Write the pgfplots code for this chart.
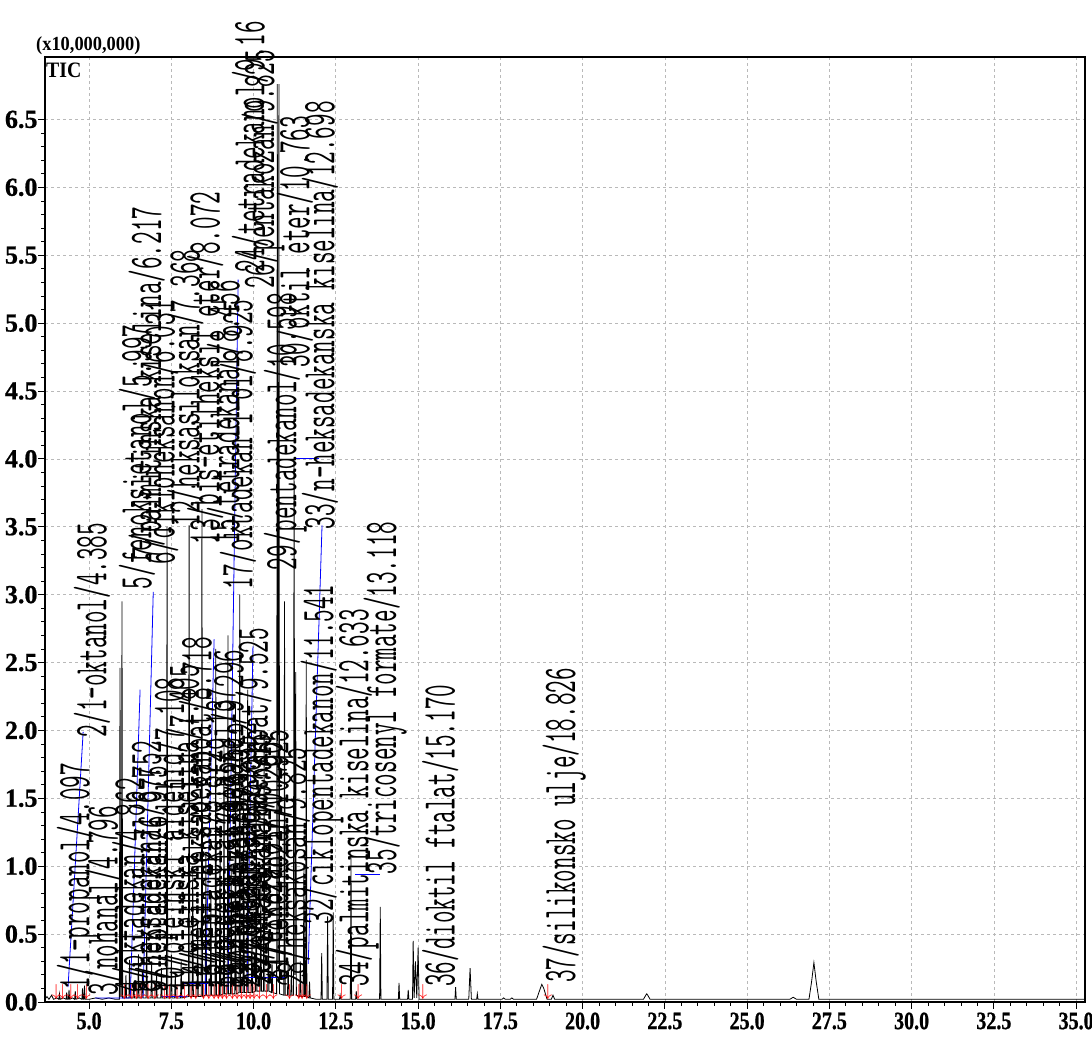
\documentclass[border=0pt]{standalone}
\usepackage{graphicx}
\usepackage{fontspec}
\setmainfont{Liberation Serif}
\usepackage{pgfplots}
\pgfplotsset{compat=1.18}

\begin{document}
\begin{tikzpicture}
\begin{axis}[name=ax,
  width=1040pt, height=945pt, scale only axis,
  xmin=3.66, xmax=35.27, ymin=0, ymax=6.96,
  xtick={5,7.5,10,12.5,15,17.5,20,22.5,25,27.5,30,32.5,35},
  ytick={0,0.5,1,1.5,2,2.5,3,3.5,4,4.5,5,5.5,6,6.5},
  minor x tick num=4, minor y tick num=4,
  xtick pos=left, ytick pos=left, tick align=outside,
  major tick length=7pt, minor tick length=4pt,
  tick style={black, line width=0.8pt},
  grid=major,
  major grid style={gray!55, dash pattern=on 3pt off 3pt, line width=0.7pt},
  axis line style={line width=1.2pt},
  /pgf/number format/assume math mode=true,
  xticklabel={\scalebox{0.8}[1]{\pgfmathprintnumber[fixed,fixed zerofill,precision=1]{\tick}}},
  yticklabel={\pgfmathprintnumber[fixed,fixed zerofill,precision=1]{\tick}},
  xticklabel style={font=\bfseries\fontsize{25}{25}\selectfont\addfontfeature{FakeBold=0.8}},
  yticklabel style={font=\bfseries\fontsize{26}{26}\selectfont\addfontfeature{FakeBold=0.8}, xshift=3pt},
  clip=false]

% chromatogram (TIC)
\addplot[black, line width=0.8pt] coordinates {
(3.66,0.02)(3.72,0.04)(3.78,0.02)(3.86,0.05)(3.92,0.02)(4.02,0.03)(4.08,0.02)(4.10,0.06)(4.12,0.02)
(4.22,0.03)(4.30,0.02)(4.32,0.07)(4.34,0.02)(4.37,0.02)(4.39,0.09)(4.41,0.02)(4.50,0.03)(4.56,0.02)
(4.58,0.08)(4.60,0.02)(4.70,0.03)(4.78,0.02)(4.80,0.10)(4.82,0.02)(4.84,0.02)(4.86,0.12)(4.88,0.02)
(5.00,0.02)(5.20,0.03)(5.40,0.02)(5.60,0.03)(5.80,0.02)(5.92,0.02)(5.94,2.46)(5.96,0.04)(5.98,0.04)
(6.00,2.95)(6.02,0.03)(6.10,0.03)(6.12,0.20)(6.14,0.03)(6.21,0.03)(6.23,0.31)(6.25,0.03)(6.34,0.03)
(6.36,0.15)(6.38,0.03)(6.48,0.03)(6.50,0.35)(6.52,0.03)(6.60,0.03)(6.62,0.22)(6.64,0.03)(6.73,0.03)
(6.75,0.50)(6.77,0.03)(6.88,0.03)(6.90,0.30)(6.92,0.03)(7.03,0.03)(7.05,0.20)(7.07,0.03)(7.18,0.03)
(7.20,0.25)(7.22,0.03)(7.35,0.03)(7.37,3.50)(7.39,0.03)(7.48,0.03)(7.50,0.35)(7.52,0.03)(7.60,0.03)
(7.62,0.20)(7.64,0.03)(7.78,0.03)(7.80,0.30)(7.82,0.03)(8.02,0.04)(8.04,3.51)(8.06,0.04)(8.13,0.04)
(8.15,1.00)(8.17,0.04)(8.28,0.04)(8.30,0.60)(8.32,0.04)(8.41,0.04)(8.43,3.63)(8.45,0.04)(8.53,0.05)
(8.55,1.10)(8.57,0.05)(8.68,0.05)(8.70,0.80)(8.72,0.05)(8.83,0.05)(8.85,2.60)(8.87,0.05)(8.96,0.05)
(8.98,1.20)(9.00,0.05)(9.08,0.06)(9.10,1.90)(9.12,0.06)(9.20,0.06)(9.22,2.70)(9.24,0.06)(9.30,0.06)
(9.32,1.00)(9.34,0.06)(9.43,0.06)(9.45,2.20)(9.47,0.06)(9.56,0.07)(9.58,3.00)(9.60,0.07)(9.68,0.07)
(9.70,1.60)(9.72,0.07)(9.80,0.07)(9.82,2.30)(9.84,0.07)(9.93,0.07)(9.95,0.60)(9.97,0.07)(10.06,0.08)
(10.08,1.50)(10.10,0.08)(10.20,0.08)(10.22,0.90)(10.24,0.08)(10.30,0.08)(10.32,2.00)(10.34,0.08)
(10.43,0.08)(10.45,0.50)(10.47,0.08)(10.54,0.07)(10.56,0.30)(10.58,0.07)(10.70,0.06)(10.72,6.76)
(10.745,0.30)(10.77,6.76)(10.79,0.06)(10.92,0.05)(10.94,2.95)(10.96,0.05)(11.03,0.05)(11.05,0.30)
(11.07,0.05)(11.13,0.05)(11.15,0.25)(11.17,0.05)(11.21,0.05)(11.23,4.00)(11.255,0.20)(11.28,2.43)
(11.30,0.05)(11.40,0.04)(11.42,0.30)(11.44,0.04)(11.51,0.04)(11.53,1.00)(11.55,0.04)(11.58,0.04)
(11.60,2.52)(11.62,0.04)(11.68,0.03)(11.70,0.15)(11.72,0.03)(11.90,0.02)(12.05,0.02)(12.07,0.36)
(12.09,0.02)(12.23,0.02)(12.25,0.63)(12.27,0.02)(12.40,0.02)(12.42,0.66)(12.44,0.02)(12.61,0.02)
(12.63,0.05)(12.65,0.02)(12.94,0.02)(12.96,1.06)(12.98,0.02)(13.10,0.02)(13.12,0.08)(13.14,0.02)
(13.50,0.02)(13.83,0.02)(13.85,0.70)(13.87,0.02)(14.20,0.02)(14.40,0.02)(14.42,0.14)(14.44,0.02)
(14.68,0.02)(14.70,0.09)(14.72,0.02)(14.83,0.02)(14.85,0.45)(14.88,0.03)(14.92,0.30)(14.96,0.03)
(15.00,0.40)(15.03,0.02)(15.50,0.02)(16.12,0.02)(16.14,0.11)(16.16,0.02)(16.54,0.02)(16.58,0.25)
(16.62,0.02)(16.78,0.02)(16.80,0.06)(16.82,0.02)(17.55,0.02)(17.60,0.03)(17.65,0.02)(17.80,0.02)
(17.85,0.03)(17.90,0.02)(18.60,0.02)(18.70,0.09)(18.76,0.13)(18.82,0.10)(18.92,0.02)(19.05,0.02)
(19.10,0.05)(19.15,0.02)(20.20,0.02)(21.85,0.02)(21.92,0.05)(21.95,0.06)(21.98,0.05)(22.05,0.02)
(26.30,0.02)(26.40,0.035)(26.50,0.02)(26.88,0.02)(26.96,0.15)(27.03,0.29)(27.10,0.15)(27.18,0.02)
(35.27,0.02)
};

% blue leader lines
\addplot[blue, line width=0.8pt] coordinates {(4.36,0.11)(4.82,1.99)};
\addplot[blue, line width=0.8pt] coordinates {(5.18,0.03)(6.25,0.03)(6.55,2.30)};
\addplot[blue, line width=0.8pt] coordinates {(6.64,0.03)(6.95,3.02)};
\addplot[blue, line width=0.8pt] coordinates {(7.22,0.04)(7.98,0.04)};
\addplot[blue, line width=0.8pt] coordinates {(7.86,0.14)(8.62,0.14)};
\addplot[blue, line width=0.8pt] coordinates {(8.53,0.05)(8.80,2.67)};
\addplot[blue, line width=0.8pt] coordinates {(9.22,0.09)(9.53,5.32)};
\addplot[blue, line width=0.8pt] coordinates {(9.80,0.09)(9.98,2.62)};
\addplot[blue, line width=0.8pt] coordinates {(9.80,0.18)(10.96,0.18)};
\addplot[blue, line width=0.8pt] coordinates {(11.66,0.28)(12.08,3.51)};
\addplot[blue, line width=0.8pt] coordinates {(11.23,4.00)(11.99,4.00)};
\addplot[blue, line width=0.8pt] coordinates {(13.09,0.94)(13.84,0.94)};

% red integration marks
\addplot[only marks, mark=text,
  text mark={\textcolor{red}{\fontsize{16}{16}\selectfont$\downarrow$}}] coordinates {
(4.00,0.07)(4.20,0.07)(4.45,0.07)(4.65,0.07)(4.92,0.07)(6.08,0.07)(6.30,0.07)(6.45,0.07)(6.58,0.07)
(6.80,0.07)(7.00,0.07)(7.30,0.07)(7.45,0.07)(7.68,0.07)(7.90,0.07)(8.10,0.07)(8.25,0.07)(8.48,0.07)
(8.64,0.07)(8.80,0.07)(8.93,0.07)(9.05,0.07)(9.18,0.07)(9.36,0.07)(9.50,0.07)(9.64,0.07)(9.78,0.07)
(9.90,0.07)(10.02,0.07)(10.18,0.07)(10.40,0.07)(10.60,0.07)(11.10,0.07)(11.38,0.07)(11.48,0.07)
(11.62,0.07)(12.68,0.07)(13.18,0.07)(15.15,0.07)(18.95,0.07)
};

% peak labels
\addplot[draw=none, mark=none, point meta=explicit symbolic,
  nodes near coords={\scalebox{0.52}[1]{\pgfplotspointmeta}},
  every node near coord/.append style={rotate=90, anchor=west, inner sep=0pt,
    font=\ttfamily\fontsize{47}{47}\selectfont\addfontfeature{FakeBold=1.2}}] coordinates {
(4.67,0.09) [1/1-propanol/4.097]
(5.09,1.95) [2/1-oktanol/4.385]
(5.43,0.05) [3/nohanal/4.796]
(6.25,0.07) [4/oktadekan/4.862]
(6.46,3.04) [5/fenoksietanol/5.997]
(7.16,3.22) [6/cikloheksanon/6.031]
(6.85,3.26) [7/palmitinska kiselina/6.217]
(6.75,0.07) [8/heksadekanal/6.752]
(7.05,0.07) [9/heptadekan/6.975]
(7.45,0.07) [10/oleinski aldehid/7.108]
(7.90,0.07) [11/oleinska kiselina/7.405]
(7.92,3.50) [12/heksasiloksan/7.368]
(8.53,3.37) [13/bis-etilheksil eter/8.072]
(8.28,0.09) [14/metil heksadekanoat/8.718]
(9.13,3.37) [15/tetradekanal/8.456]
(8.71,0.09) [16/heptadekan/8.872]
(9.53,3.04) [17/oktadekan-1-ol/8.925]
(9.01,0.09) [18/dodecil akrilat/9.137]
(9.25,0.09) [19/2-heksil-1-dekanol/9.296]
(9.65,0.20) [20/oktadekanal/9.352]
(9.41,0.10) [21/heneikozan/9.425]
(10.00,0.25) [22/metil oktadekanoat/9.525]
(9.77,0.10) [23/dokozan/9.602]
(9.89,5.37) [24/tetradekanol/9.16]
(10.10,0.12) [25/oktadekanal/9.915]
(10.29,5.25) [26/pentakozan/9.825]
(10.44,0.15) [27/eikozanol/10.266]
(11.17,0.11) [28/heksakosan/9.825]
(10.96,3.18) [29/pentadekanol/10.598]
(11.26,4.67) [30/oktil eter/10.763]
(10.62,0.15) [31/heneikozan/10.925]
(12.08,0.57) [32/ciklopentadekanon/11.541]
(12.02,3.48) [33/n-heksadekanska kiselina/12.698]
(13.15,0.11) [34/palmitinska kiselina/12.633]
(14.00,0.94) [35/tricosenyl formate/13.118]
(15.67,0.11) [36/dioktil ftalat/15.170]
(19.44,0.14) [37/silikonsko ulje/18.826]
};
\end{axis}

\node[anchor=base west, inner sep=0pt, font=\bfseries\fontsize{20}{20}\selectfont]
  at ([shift={(-9pt,6pt)}]ax.north west) {\scalebox{0.92}[1]{(x10,000,000)}};
\node[anchor=north west, inner sep=0pt, font=\bfseries\fontsize{22}{22}\selectfont]
  at ([shift={(1pt,-6pt)}]ax.north west) {\scalebox{0.9}[1]{TIC}};

\pgfresetboundingbox
\path ([shift={(-45pt,-41pt)}]ax.south west) rectangle ([shift={(7pt,57pt)}]ax.north east);
\end{tikzpicture}
\end{document}
